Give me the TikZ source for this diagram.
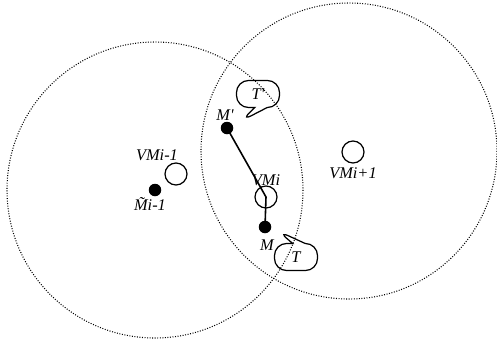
\documentclass[tikz,border=0pt]{standalone}
\usepackage{fontspec}
\setmainfont{Liberation Serif}
\usetikzlibrary{shapes.callouts}
\tikzstyle{every node}=[font=\fontsize{9.3}{10}\selectfont\itshape]
\tikzstyle{coverage}=[dash pattern=on 0.55pt off 0.9pt, line width=0.6pt]
\tikzstyle{vm}=[circle, draw, line width=0.7pt, minimum size=0.44cm, inner sep=0pt]
\tikzstyle{mobile}=[circle, fill, minimum size=0.25cm, inner sep=0pt]
\tikzstyle{talk}=[rectangle callout, draw, rounded corners=2.4mm, line width=0.7pt,
    minimum width=0.86cm, minimum height=0.54cm, inner sep=0pt]

\begin{document}
\begin{tikzpicture}[x=0.02cm, y=-0.02cm]
        \useasboundingbox (0,0) rectangle (497,339);

        \coordinate (Cl) at (155, 190);
        \coordinate (Cr) at (349, 151);
        \coordinate (tipT) at (278, 231);
        \coordinate (tipTp) at (241, 121);

        % coverage ranges
        \draw [coverage] (Cl) circle (148);
        \draw [coverage] (Cr) circle (148);

        \node [vm] (VMl) at (176, 174) {};
        \node [vm] (VMi) at (266, 197) {};
        \node [vm] (VMr) at (353, 152) {};
        \node [mobile] (Mt) at (155, 190) {};
        \node [mobile] (Mp) at (227, 128) {};
        \node [mobile] (M) at (265, 227) {};

        \node at (157, 155) {VMi-1};
        \node at (266, 180) {VMi};
        \node at (353, 173) {VMi+1};
        \node at (150, 204) {\~{M}i-1};
        \node at (225, 115) {M\textquotesingle};
        \node at (267, 245) {M};

        \node [talk, callout absolute pointer={(tipTp)}] (Tp) at (258, 94) {T\textquotesingle};
        \node [talk, callout absolute pointer={(tipT)}] (T) at (296, 257) {T};

        \draw [line width=0.9pt] (Mp.center) -- (VMi.center) -- (M.center);
    \end{tikzpicture}
\end{document}
